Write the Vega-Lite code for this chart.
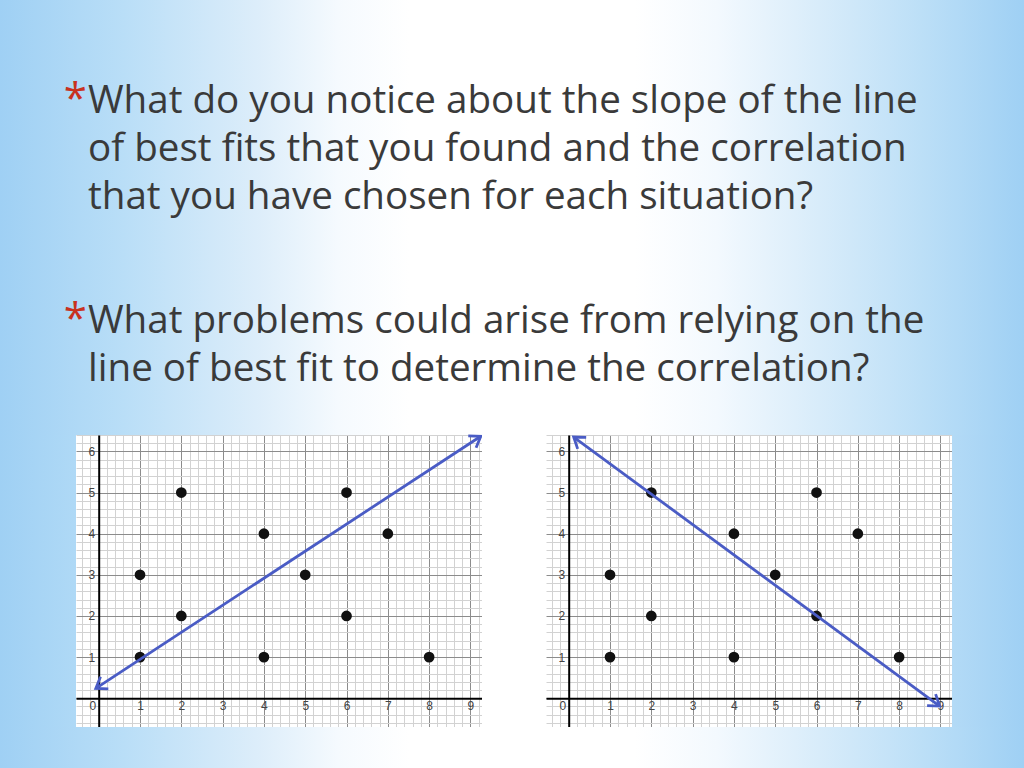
{
  "$schema": "https://vega.github.io/schema/vega-lite/v6.json",
  "padding": 0,
  "background": "#ffffff",
  "bounds": "flush",
  "spacing": 0,
  "datasets": {
    "slideText": [
      {"para": 1, "line": 1, "text": "What do you notice about the slope of the line"},
      {"para": 1, "line": 2, "text": "of best fits that you found and the correlation"},
      {"para": 1, "line": 3, "text": "that you have chosen for each situation?"},
      {"para": 2, "line": 1, "text": "What problems could arise from relying on the"},
      {"para": 2, "line": 2, "text": "line of best fit to determine the correlation?"}
    ],
    "points": [
      {"x": 1, "y": 1}, {"x": 1, "y": 3}, {"x": 2, "y": 2}, {"x": 2, "y": 5},
      {"x": 4, "y": 1}, {"x": 4, "y": 4}, {"x": 5, "y": 3}, {"x": 6, "y": 2},
      {"x": 6, "y": 5}, {"x": 7, "y": 4}, {"x": 8, "y": 1}
    ],
    "fitPositive": [
      {"x": -0.07, "y": 0.24, "end": "low"},
      {"x": 9.25, "y": 6.37, "end": "high"}
    ],
    "fitNegative": [
      {"x": 0.12, "y": 6.35, "end": "high"},
      {"x": 8.98, "y": -0.19, "end": "low"}
    ],
    "none": []
  },
  "vconcat": [
    {
      "width": 1024,
      "height": 435,
      "view": {
        "stroke": null,
        "fill": {
          "gradient": "linear", "x1": 0, "y1": 0, "x2": 1, "y2": 0,
          "stops": [
            {"offset": 0, "color": "#9fd0f4"},
            {"offset": 0.12, "color": "#b9def7"},
            {"offset": 0.25, "color": "#dcedfa"},
            {"offset": 0.33, "color": "#f5fafe"},
            {"offset": 0.4, "color": "#ffffff"},
            {"offset": 0.62, "color": "#ffffff"},
            {"offset": 0.7, "color": "#f3f9fe"},
            {"offset": 0.8, "color": "#d8ecfa"},
            {"offset": 0.9, "color": "#bcdff7"},
            {"offset": 1, "color": "#9fd0f4"}
          ]
        }
      },
      "data": {"name": "slideText"},
      "encoding": {
        "x": {"datum": 0, "type": "quantitative", "scale": {"domain": [-88, 936], "nice": false, "zero": false}, "axis": null},
        "y": {"field": "line", "type": "quantitative", "scale": {"domain": [-1.354, 7.708], "reverse": true, "nice": false, "zero": false}, "axis": null}
      },
      "layer": [
        {
          "transform": [{"filter": "datum.para === 1"}],
          "mark": {"type": "text", "align": "left", "baseline": "alphabetic", "font": "Open Sans", "fontSize": 38.6, "color": "#3a3a3a"},
          "encoding": {"text": {"field": "text"}}
        },
        {
          "transform": [{"filter": "datum.para === 2"}],
          "mark": {"type": "text", "align": "left", "baseline": "alphabetic", "font": "Open Sans", "fontSize": 38.6, "color": "#3a3a3a", "dy": 220},
          "encoding": {"text": {"field": "text"}}
        },
        {
          "transform": [{"filter": "datum.para === 1 && datum.line === 1"}],
          "mark": {"type": "text", "align": "right", "baseline": "alphabetic", "font": "Open Sans", "fontSize": 42, "color": "#c8321f", "dx": -1, "dy": 0, "text": "*"}
        },
        {
          "transform": [{"filter": "datum.para === 2 && datum.line === 1"}],
          "mark": {"type": "text", "align": "right", "baseline": "alphabetic", "font": "Open Sans", "fontSize": 42, "color": "#c8321f", "dx": -1, "dy": 220, "text": "*"}
        }
      ]
    },
    {
      "bounds": "flush",
      "spacing": 292,
      "vconcat": [
        {
          "bounds": "flush",
          "spacing": 0,
          "hconcat": [
            {
              "width": 76,
              "height": 292,
              "view": {
                "stroke": null,
                "fill": {
                  "gradient": "linear", "x1": 0, "y1": 0, "x2": 1, "y2": 0,
                  "stops": [{"offset": 0, "color": "#9fd0f4"}, {"offset": 1, "color": "#afd9f6"}]
                }
              },
              "data": {"name": "none"},
              "mark": "point"
            },
            {
              "width": 406,
              "height": 292,
              "view": {"fill": "#ffffff", "stroke": null},
              "encoding": {
                "x": {
                  "field": "x", "type": "quantitative",
                  "scale": {"domain": [-0.55, 9.28], "nice": false, "zero": false},
                  "axis": {
                    "title": null, "offset": -28.8, "ticks": false,
                    "domainColor": "#000000", "domainWidth": 2,
                    "values": [-0.4, -0.2, 0, 0.2, 0.4, 0.6, 0.8, 1, 1.2, 1.4, 1.6, 1.8, 2, 2.2, 2.4, 2.6, 2.8, 3, 3.2, 3.4, 3.6, 3.8, 4, 4.2, 4.4, 4.6, 4.8, 5, 5.2, 5.4, 5.6, 5.8, 6, 6.2, 6.4, 6.6, 6.8, 7, 7.2, 7.4, 7.6, 7.8, 8, 8.2, 8.4, 8.6, 8.8, 9, 9.2],
                    "gridColor": {"condition": {"test": "datum.value % 1 === 0", "value": "#8c8c8c"}, "value": "#d2d2d2"},
                    "labelExpr": "datum.value % 1 === 0 ? format(datum.value, 'd') : ''",
                    "labelAlign": {"condition": {"test": "datum.value === 0", "value": "right"}, "value": "center"},
                    "labelOffset": {"condition": {"test": "datum.value === 0", "value": -3}, "value": 0},
                    "labelPadding": 2
                  }
                },
                "y": {
                  "field": "y", "type": "quantitative",
                  "scale": {"domain": [-0.7, 6.4], "nice": false, "zero": false},
                  "axis": {
                    "title": null, "offset": -22.7, "ticks": false,
                    "domainColor": "#000000", "domainWidth": 2,
                    "values": [-0.6, -0.4, -0.2, 0, 0.2, 0.4, 0.6, 0.8, 1, 1.2, 1.4, 1.6, 1.8, 2, 2.2, 2.4, 2.6, 2.8, 3, 3.2, 3.4, 3.6, 3.8, 4, 4.2, 4.4, 4.6, 4.8, 5, 5.2, 5.4, 5.6, 5.8, 6, 6.2, 6.4],
                    "gridColor": {"condition": {"test": "datum.value % 1 === 0", "value": "#8c8c8c"}, "value": "#d2d2d2"},
                    "labelExpr": "datum.value % 1 === 0 && datum.value !== 0 ? format(datum.value, 'd') : ''",
                    "labelPadding": 4
                  }
                }
              },
              "layer": [
                {
                  "data": {"name": "points"},
                  "mark": {"type": "point", "filled": true, "size": 115, "color": "#111111", "opacity": 1}
                },
                {
                  "data": {"name": "fitPositive"},
                  "mark": {"type": "line", "color": "#4a5cc5", "strokeWidth": 2.8}
                },
                {
                  "data": {"name": "fitPositive"},
                  "mark": {"type": "point", "shape": "M-1,-0.7L0,0L-1,0.7", "filled": false, "size": 420, "strokeWidth": 2.8, "color": "#4a5cc5", "opacity": 1},
                  "encoding": {
                    "angle": {"condition": {"test": "datum.end === 'high'", "value": 327}, "value": 147}
                  }
                }
              ]
            },
            {
              "width": 64,
              "height": 292,
              "view": {"stroke": null, "fill": "#ffffff"},
              "data": {"name": "none"},
              "mark": "point"
            },
            {
              "width": 406,
              "height": 292,
              "view": {"fill": "#ffffff", "stroke": null},
              "encoding": {
                "x": {
                  "field": "x", "type": "quantitative",
                  "scale": {"domain": [-0.55, 9.28], "nice": false, "zero": false},
                  "axis": {
                    "title": null, "offset": -28.8, "ticks": false,
                    "domainColor": "#000000", "domainWidth": 2,
                    "values": [-0.4, -0.2, 0, 0.2, 0.4, 0.6, 0.8, 1, 1.2, 1.4, 1.6, 1.8, 2, 2.2, 2.4, 2.6, 2.8, 3, 3.2, 3.4, 3.6, 3.8, 4, 4.2, 4.4, 4.6, 4.8, 5, 5.2, 5.4, 5.6, 5.8, 6, 6.2, 6.4, 6.6, 6.8, 7, 7.2, 7.4, 7.6, 7.8, 8, 8.2, 8.4, 8.6, 8.8, 9, 9.2],
                    "gridColor": {"condition": {"test": "datum.value % 1 === 0", "value": "#8c8c8c"}, "value": "#d2d2d2"},
                    "labelExpr": "datum.value % 1 === 0 ? format(datum.value, 'd') : ''",
                    "labelAlign": {"condition": {"test": "datum.value === 0", "value": "right"}, "value": "center"},
                    "labelOffset": {"condition": {"test": "datum.value === 0", "value": -3}, "value": 0},
                    "labelPadding": 2
                  }
                },
                "y": {
                  "field": "y", "type": "quantitative",
                  "scale": {"domain": [-0.7, 6.4], "nice": false, "zero": false},
                  "axis": {
                    "title": null, "offset": -22.7, "ticks": false,
                    "domainColor": "#000000", "domainWidth": 2,
                    "values": [-0.6, -0.4, -0.2, 0, 0.2, 0.4, 0.6, 0.8, 1, 1.2, 1.4, 1.6, 1.8, 2, 2.2, 2.4, 2.6, 2.8, 3, 3.2, 3.4, 3.6, 3.8, 4, 4.2, 4.4, 4.6, 4.8, 5, 5.2, 5.4, 5.6, 5.8, 6, 6.2, 6.4],
                    "gridColor": {"condition": {"test": "datum.value % 1 === 0", "value": "#8c8c8c"}, "value": "#d2d2d2"},
                    "labelExpr": "datum.value % 1 === 0 && datum.value !== 0 ? format(datum.value, 'd') : ''",
                    "labelPadding": 4
                  }
                }
              },
              "layer": [
                {
                  "data": {"name": "points"},
                  "mark": {"type": "point", "filled": true, "size": 115, "color": "#111111", "opacity": 1}
                },
                {
                  "data": {"name": "fitNegative"},
                  "mark": {"type": "line", "color": "#4a5cc5", "strokeWidth": 2.8}
                },
                {
                  "data": {"name": "fitNegative"},
                  "mark": {"type": "point", "shape": "M-1,-0.7L0,0L-1,0.7", "filled": false, "size": 420, "strokeWidth": 2.8, "color": "#4a5cc5", "opacity": 1},
                  "encoding": {
                    "angle": {"condition": {"test": "datum.end === 'low'", "value": 36.4}, "value": 216.4}
                  }
                }
              ]
            },
            {
              "width": 72,
              "height": 292,
              "view": {
                "stroke": null,
                "fill": {
                  "gradient": "linear", "x1": 0, "y1": 0, "x2": 1, "y2": 0,
                  "stops": [{"offset": 0, "color": "#b3daf6"}, {"offset": 1, "color": "#9fd0f4"}]
                }
              },
              "data": {"name": "none"},
              "mark": "point"
            }
          ]
        },
        {
          "width": 1024,
          "height": 41,
          "view": {
            "stroke": null,
            "fill": {
              "gradient": "linear", "x1": 0, "y1": 0, "x2": 1, "y2": 0,
              "stops": [
                {"offset": 0, "color": "#9fd0f4"},
                {"offset": 0.12, "color": "#b9def7"},
                {"offset": 0.25, "color": "#dcedfa"},
                {"offset": 0.33, "color": "#f5fafe"},
                {"offset": 0.4, "color": "#ffffff"},
                {"offset": 0.62, "color": "#ffffff"},
                {"offset": 0.7, "color": "#f3f9fe"},
                {"offset": 0.8, "color": "#d8ecfa"},
                {"offset": 0.9, "color": "#bcdff7"},
                {"offset": 1, "color": "#9fd0f4"}
              ]
            }
          },
          "data": {"name": "none"},
          "mark": "point"
        }
      ]
    }
  ],
  "config": {
    "view": {"stroke": null},
    "axis": {
      "grid": true,
      "gridWidth": 1,
      "labelFont": "Liberation Sans",
      "labelFontSize": 12,
      "labelColor": "#444444",
      "labelOverlap": false,
      "labelFlush": false
    }
  }
}
